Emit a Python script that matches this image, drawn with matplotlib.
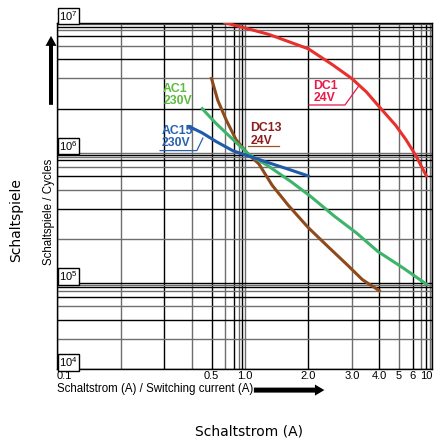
import numpy as np
import matplotlib.pyplot as plt

plt.rcParams['font.family'] = ['Liberation Sans', 'DejaVu Sans']

# curves: switching current (A) -> switching cycles
dc1_x = [0.6, 1.3, 2.0, 2.5, 3.0, 3.5, 4.0, 4.8, 5.5, 6.4, 8.0]
dc1_y = [1.0e7, 6.3e6, 4.75e6, 3.7e6, 3.0e6, 2.5e6, 2.05e6, 1.55e6, 1.23e6, 8.3e5, 5.0e5]

dc13_x = [0.5, 0.544, 0.614, 0.741, 1.035, 1.17, 1.35, 1.61, 2.0, 2.4, 2.87, 3.35, 4.0]
dc13_y = [3.0e6, 2.24e6, 1.67e6, 1.235e6, 9.6e5, 6.4e5, 4.3e5, 3.16e5, 2.33e5, 1.78e5, 1.34e5, 1.06e5, 7.0e4]

ac1_x = [0.45, 0.531, 0.69, 1.055, 1.3, 1.67, 2.05, 2.54, 3.15, 3.93, 5.24, 8.0]
ac1_y = [2.0e6, 1.59e6, 1.235e6, 8.95e5, 6.05e5, 4.52e5, 3.6e5, 2.73e5, 2.17e5, 1.65e5, 1.28e5, 9.5e4]

ac15_x = [0.39, 0.45, 0.53, 0.69, 1.055, 1.3, 1.61, 2.0]
ac15_y = [1.51e6, 1.37e6, 1.2e6, 1.035e6, 8.3e5, 6.6e5, 5.7e5, 5.0e5]

x_ticks = [0.1, 0.5, 1, 2, 3, 4, 5, 6, 10]
x_ticklabels = ['0.1', '0.5', '1.0', '2.0', '3.0', '4.0', '5', '6', '10']
y_decades = [1e4, 1e5, 1e6, 1e7]
y_decade_labels = [r'$\mathregular{10^4}$', r'$\mathregular{10^5}$',
                   r'$\mathregular{10^6}$', r'$\mathregular{10^7}$']

# the printed grid is not a true log grid; position of 1..10 inside a decade
frac = [0, 0.34, 0.572, 0.719, 0.824, 0.896, 0.943, 0.970, 0.987, 1.0]

x_vals = [m * 10.0 ** k for k in (-1, 0) for m in range(1, 10)] + [10.0]
x_pos = [k + frac[m - 1] for k in (-1, 0) for m in range(1, 10)] + [1.0]
# bottom decade is cut short in the original (starts where 2e4 would be)
y_vals = [1e4] + [m * 1e4 for m in range(3, 10)] + \
         [m * 10.0 ** k for k in (5, 6) for m in range(1, 10)] + [1e7]
y_pos = [4 + frac[1]] + [4 + frac[m - 1] for m in range(3, 10)] + \
        [k + frac[m - 1] for k in (5, 6) for m in range(1, 10)] + [7.0]


def grid_scale(vals, pos):
    lv = np.log10(vals)
    lv = np.concatenate([[lv[0] - 20], lv, [lv[-1] + 20]])
    ps = np.concatenate([[pos[0] - 20], pos, [pos[-1] + 20]])

    def fwd(v):
        v = np.asarray(v, dtype=float)
        return np.interp(np.log10(np.clip(v, 1e-30, None)), lv, ps)

    def inv(p):
        return 10 ** np.interp(p, ps, lv)
    return fwd, inv


fig = plt.figure(figsize=(4.36, 4.43), dpi=100)
ax = fig.add_axes([57 / 436, 1 - 369.3 / 443, 375 / 436, 346.6 / 443])
ax.set_xscale('function', functions=grid_scale(x_vals, x_pos))
ax.set_yscale('function', functions=grid_scale(y_vals, y_pos))
ax.set_xlim(0.1, 10)
ax.set_ylim(1e4, 1e7)

for i, v in enumerate(x_vals):
    ax.axvline(v, color='black' if i % 2 == 0 else '#6e6e6e', lw=1.0, zorder=1)
for i, v in enumerate(y_vals):
    ax.axhline(v, color='black' if i % 2 == 0 else '#6e6e6e', lw=1.0, zorder=1)

ax.plot(dc13_x, dc13_y, color='#8E4A1C', lw=2.2, zorder=3)
ax.plot(ac1_x, ac1_y, color='#3DB46A', lw=2.2, zorder=4)
ax.plot(ac15_x, ac15_y, color='#1F5BAA', lw=2.2, zorder=5)
ax.plot(dc1_x, dc1_y, color='#E8302C', lw=2.2, zorder=3)

ax.set_xticks(x_ticks)
ax.set_xticklabels(x_ticklabels, fontsize=8)
ax.xaxis.set_minor_locator(plt.NullLocator())
ax.set_yticks([])
ax.yaxis.set_minor_locator(plt.NullLocator())
ax.tick_params(length=0, pad=1.5)
tl = ax.get_xticklabels()
tl[0].set_ha('left')
tl[-1].set_ha('right')
for s in ax.spines.values():
    s.set_linewidth(1.0)

for v, lab in zip(y_decades, y_decade_labels):
    ax.text(0.006, v, lab, transform=ax.get_yaxis_transform(), ha='left', va='bottom',
            fontsize=8, zorder=6,
            bbox=dict(boxstyle='square,pad=0.12', fc='white', ec='black', lw=1))

# curve labels
lab_kw = dict(transform=ax.transAxes, ha='left', va='top', fontsize=8.8,
              fontweight='bold', linespacing=1.05, zorder=6)
ax.text(0.283, 0.826, 'AC1\n230V', color='#5DBB3F', **lab_kw)
ax.text(0.28, 0.705, 'AC15\n230V', color='#2A60B0', **lab_kw)
ax.text(0.515, 0.713, 'DC13\n24V', color='#8B1E1E', **lab_kw)
ax.text(0.683, 0.835, 'DC1\n24V', color='#E8194B', **lab_kw)
ax.plot([0.275, 0.373, 0.389], [0.631, 0.631, 0.667], transform=ax.transAxes,
        color='#2A60B0', lw=0.9, zorder=6)
ax.plot([0.509, 0.592], [0.645, 0.645], transform=ax.transAxes,
        color='#A0522D', lw=0.9, zorder=6)
ax.plot([0.672, 0.768, 0.803], [0.7626, 0.7626, 0.815], transform=ax.transAxes,
        color='#E8194B', lw=0.9, zorder=6)

# inner axis captions with arrows
ax.text(-0.021, 0.454, 'Schaltspiele / Cycles', transform=ax.transAxes, rotation=90,
        ha='center', va='center', fontsize=8.3)
ax.text(0.0, -0.056, 'Schaltstrom (A) / Switching current (A)', transform=ax.transAxes,
        ha='left', va='center', fontsize=8.3)
ax.annotate('', xy=(-0.016, 0.962), xytext=(-0.016, 0.763), xycoords='axes fraction',
            arrowprops=dict(arrowstyle='simple,head_length=0.72,head_width=0.79,tail_width=0.29',
                            mutation_scale=10, fc='black', ec='none',
                            shrinkA=0, shrinkB=0))
ax.annotate('', xy=(0.713, -0.06), xytext=(0.525, -0.06), xycoords='axes fraction',
            arrowprops=dict(arrowstyle='simple,head_length=0.68,head_width=0.8,tail_width=0.36',
                            mutation_scale=10, fc='black', ec='none',
                            shrinkA=0, shrinkB=0))

# outer labels
fig.text(0.037, 0.503, 'Schaltspiele', rotation=90, ha='center', va='center',
         fontsize=10, family='DejaVu Sans')
fig.text(0.571, 0.025, 'Schaltstrom (A)', ha='center', va='center',
         fontsize=10, family='DejaVu Sans')

fig.savefig('out.png', dpi=100)
